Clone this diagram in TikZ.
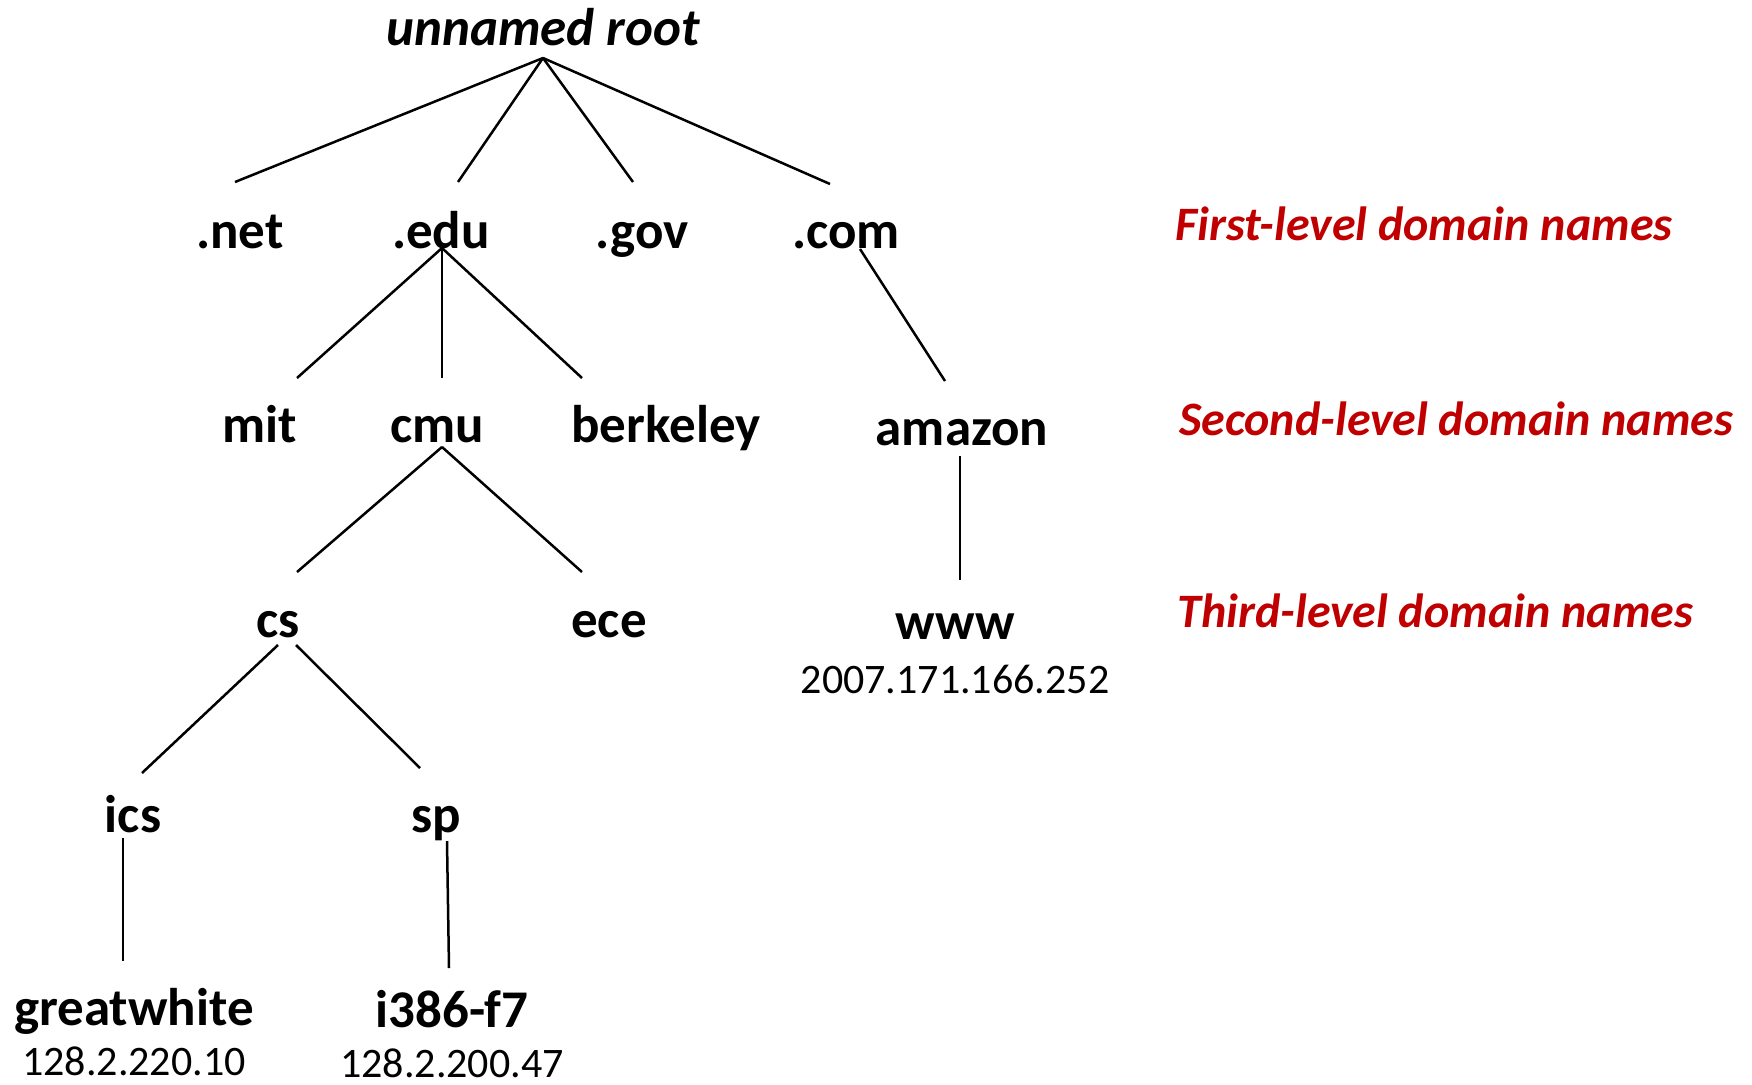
\documentclass[tikz,border=0pt]{standalone}
\usepackage{fontspec}
\setmainfont{Carlito}
\definecolor{lvlred}{HTML}{C00000}
\begin{document}
\begin{tikzpicture}[x=0.5pt,y=-0.5pt,
  dom/.style={anchor=base,inner sep=0pt,font=\fontsize{26.5}{30}\selectfont\bfseries},
  ip/.style={anchor=base,inner sep=0pt,font=\fontsize{21}{25}\selectfont},
  lvl/.style={anchor=base west,inner sep=0pt,text=lvlred,font=\fontsize{24}{28}\selectfont\bfseries\itshape},
  edge/.style={line width=1.25pt}]
\useasboundingbox (0,0) rectangle (1752,1084);
% nodes
\node[dom,font=\fontsize{26.5}{30}\selectfont\bfseries\itshape] (root) at (543,45) {unnamed root};
\node[dom] (net) at (240,248) {.net};
\node[dom] (edu) at (441,248) {.edu};
\node[dom] (gov) at (642,248) {.gov};
\node[dom] (com) at (846,248) {.com};
\node[dom] (mit) at (260,442) {mit};
\node[dom] (cmu) at (437,442) {cmu};
\node[dom] (berkeley) at (666,442) {berkeley};
\node[dom] (amazon) at (962,445) {amazon};
\node[dom] (cs) at (278,637) {cs};
\node[dom] (ece) at (609,637) {ece};
\node[dom] (www) at (955,639) {www};
\node[ip] (wwwip) at (955,693) {2007.171.166.252};
\node[dom] (ics) at (133,832) {ics};
\node[dom] (sp) at (436,832) {sp};
\node[dom] (gw) at (134,1025) {greatwhite};
\node[ip] (gwip) at (134,1075) {128.2.220.10};
\node[dom] (i386) at (452,1027) {i386-f7};
\node[ip] (i386ip) at (452,1077) {128.2.200.47};
\node[lvl] (l1) at (1175,240) {First-level domain names};
\node[lvl] (l2) at (1179,435) {Second-level domain names};
\node[lvl] (l3) at (1177,627) {Third-level domain names};
% connector ends
\coordinate (rootB) at (543,58);
\coordinate (netT) at (235,182);
\coordinate (eduT) at (458,182);
\coordinate (govT) at (633,182);
\coordinate (comT) at (830,184);
\coordinate (eduB) at (442,248);
\coordinate (mitT) at (297,378);
\coordinate (cmuT) at (442,378);
\coordinate (berkT) at (582,378);
\coordinate (comB) at (860,249);
\coordinate (amzT) at (945,381);
\coordinate (cmuB) at (442,447);
\coordinate (csT) at (297,572);
\coordinate (eceT) at (582,572);
\coordinate (amzB) at (960,456);
\coordinate (wwwT) at (960,580);
\coordinate (csBL) at (278,645);
\coordinate (csBR) at (296,645);
\coordinate (icsT) at (142,773);
\coordinate (spT) at (420,768);
\coordinate (icsB) at (123,838);
\coordinate (gwT) at (123,961);
\coordinate (spB) at (447,841);
\coordinate (i386T) at (449,968);
% connectors
\draw[edge] (rootB) -- (netT);
\draw[edge] (rootB) -- (eduT);
\draw[edge] (rootB) -- (govT);
\draw[edge] (rootB) -- (comT);
\draw[edge] (eduB) -- (mitT);
\draw[edge] (eduB) -- (cmuT);
\draw[edge] (eduB) -- (berkT);
\draw[edge] (comB) -- (amzT);
\draw[edge] (cmuB) -- (csT);
\draw[edge] (cmuB) -- (eceT);
\draw[edge] (amzB) -- (wwwT);
\draw[edge] (csBL) -- (icsT);
\draw[edge] (csBR) -- (spT);
\draw[edge] (icsB) -- (gwT);
\draw[edge] (spB) -- (i386T);
\end{tikzpicture}
\end{document}
